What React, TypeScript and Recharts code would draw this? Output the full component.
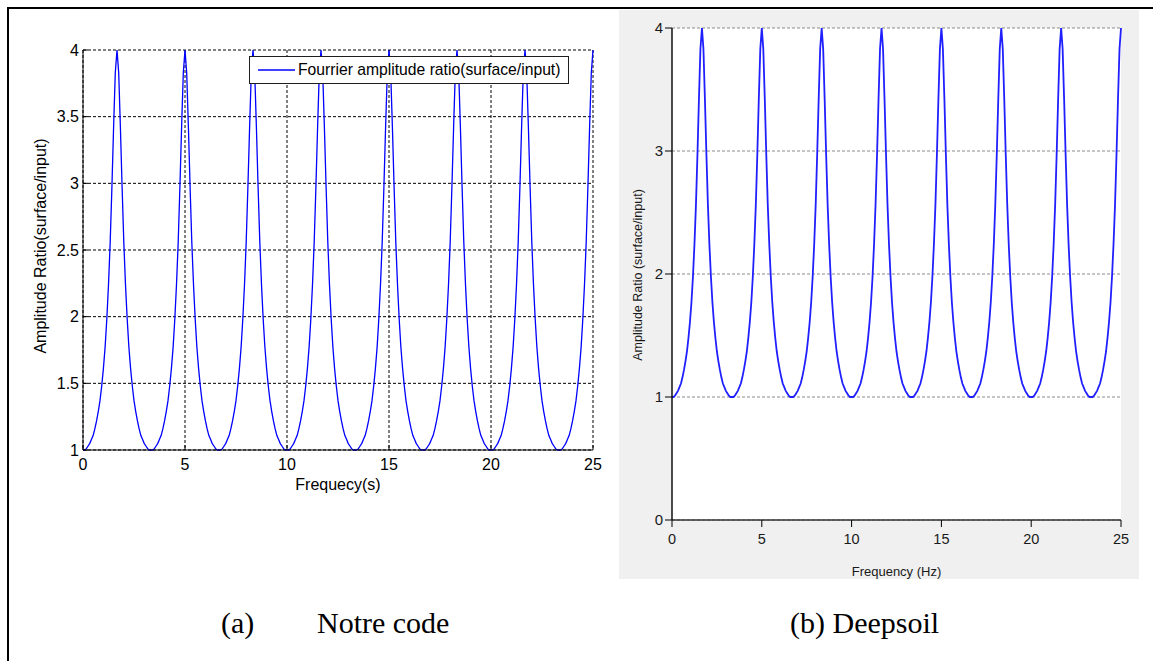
import React from 'react';
import { LineChart, Line, XAxis, YAxis, CartesianGrid, Legend } from 'recharts';

// Frequency samples (Hz), read along the x axis of both plots
const frequencyHz = [
  0, 0.083, 0.167, 0.25, 0.333, 0.417, 0.5, 0.583, 0.667, 0.75, 0.833, 0.917,
  1, 1.083, 1.167, 1.25, 1.333, 1.417, 1.5, 1.583, 1.667, 1.75, 1.833, 1.917,
  2, 2.083, 2.167, 2.25, 2.333, 2.417, 2.5, 2.583, 2.667, 2.75, 2.833, 2.917,
  3, 3.083, 3.167, 3.25, 3.333, 3.417, 3.5, 3.583, 3.667, 3.75, 3.833, 3.917,
  4, 4.083, 4.167, 4.25, 4.333, 4.417, 4.5, 4.583, 4.667, 4.75, 4.833, 4.917,
  5, 5.083, 5.167, 5.25, 5.333, 5.417, 5.5, 5.583, 5.667, 5.75, 5.833, 5.917,
  6, 6.083, 6.167, 6.25, 6.333, 6.417, 6.5, 6.583, 6.667, 6.75, 6.833, 6.917,
  7, 7.083, 7.167, 7.25, 7.333, 7.417, 7.5, 7.583, 7.667, 7.75, 7.833, 7.917,
  8, 8.083, 8.167, 8.25, 8.333, 8.417, 8.5, 8.583, 8.667, 8.75, 8.833, 8.917,
  9, 9.083, 9.167, 9.25, 9.333, 9.417, 9.5, 9.583, 9.667, 9.75, 9.833, 9.917,
  10, 10.083, 10.167, 10.25, 10.333, 10.417, 10.5, 10.583, 10.667, 10.75, 10.833, 10.917,
  11, 11.083, 11.167, 11.25, 11.333, 11.417, 11.5, 11.583, 11.667, 11.75, 11.833, 11.917,
  12, 12.083, 12.167, 12.25, 12.333, 12.417, 12.5, 12.583, 12.667, 12.75, 12.833, 12.917,
  13, 13.083, 13.167, 13.25, 13.333, 13.417, 13.5, 13.583, 13.667, 13.75, 13.833, 13.917,
  14, 14.083, 14.167, 14.25, 14.333, 14.417, 14.5, 14.583, 14.667, 14.75, 14.833, 14.917,
  15, 15.083, 15.167, 15.25, 15.333, 15.417, 15.5, 15.583, 15.667, 15.75, 15.833, 15.917,
  16, 16.083, 16.167, 16.25, 16.333, 16.417, 16.5, 16.583, 16.667, 16.75, 16.833, 16.917,
  17, 17.083, 17.167, 17.25, 17.333, 17.417, 17.5, 17.583, 17.667, 17.75, 17.833, 17.917,
  18, 18.083, 18.167, 18.25, 18.333, 18.417, 18.5, 18.583, 18.667, 18.75, 18.833, 18.917,
  19, 19.083, 19.167, 19.25, 19.333, 19.417, 19.5, 19.583, 19.667, 19.75, 19.833, 19.917,
  20, 20.083, 20.167, 20.25, 20.333, 20.417, 20.5, 20.583, 20.667, 20.75, 20.833, 20.917,
  21, 21.083, 21.167, 21.25, 21.333, 21.417, 21.5, 21.583, 21.667, 21.75, 21.833, 21.917,
  22, 22.083, 22.167, 22.25, 22.333, 22.417, 22.5, 22.583, 22.667, 22.75, 22.833, 22.917,
  23, 23.083, 23.167, 23.25, 23.333, 23.417, 23.5, 23.583, 23.667, 23.75, 23.833, 23.917,
  24, 24.083, 24.167, 24.25, 24.333, 24.417, 24.5, 24.583, 24.667, 24.75, 24.833, 24.917,
  25,
];

// Amplitude ratio (surface/input) (same curve in both plots)
const amplitudeRatio = [
  1.00, 1.00, 1.01, 1.03, 1.05, 1.08, 1.11, 1.16, 1.22, 1.29, 1.37, 1.48, 1.61, 1.77, 1.98, 2.24, 2.56, 2.97, 3.42, 3.83,
  4.00, 3.83, 3.42, 2.97, 2.56, 2.24, 1.98, 1.77, 1.61, 1.48, 1.37, 1.29, 1.22, 1.16, 1.11, 1.08, 1.05, 1.03, 1.01, 1.00,
  1.00, 1.00, 1.01, 1.03, 1.05, 1.08, 1.11, 1.16, 1.22, 1.29, 1.37, 1.48, 1.61, 1.77, 1.98, 2.24, 2.56, 2.97, 3.42, 3.83,
  4.00, 3.83, 3.42, 2.97, 2.56, 2.24, 1.98, 1.77, 1.61, 1.48, 1.37, 1.29, 1.22, 1.16, 1.11, 1.08, 1.05, 1.03, 1.01, 1.00,
  1.00, 1.00, 1.01, 1.03, 1.05, 1.08, 1.11, 1.16, 1.22, 1.29, 1.37, 1.48, 1.61, 1.77, 1.98, 2.24, 2.56, 2.97, 3.42, 3.83,
  4.00, 3.83, 3.42, 2.97, 2.56, 2.24, 1.98, 1.77, 1.61, 1.48, 1.37, 1.29, 1.22, 1.16, 1.11, 1.08, 1.05, 1.03, 1.01, 1.00,
  1.00, 1.00, 1.01, 1.03, 1.05, 1.08, 1.11, 1.16, 1.22, 1.29, 1.37, 1.48, 1.61, 1.77, 1.98, 2.24, 2.56, 2.97, 3.42, 3.83,
  4.00, 3.83, 3.42, 2.97, 2.56, 2.24, 1.98, 1.77, 1.61, 1.48, 1.37, 1.29, 1.22, 1.16, 1.11, 1.08, 1.05, 1.03, 1.01, 1.00,
  1.00, 1.00, 1.01, 1.03, 1.05, 1.08, 1.11, 1.16, 1.22, 1.29, 1.37, 1.48, 1.61, 1.77, 1.98, 2.24, 2.56, 2.97, 3.42, 3.83,
  4.00, 3.83, 3.42, 2.97, 2.56, 2.24, 1.98, 1.77, 1.61, 1.48, 1.37, 1.29, 1.22, 1.16, 1.11, 1.08, 1.05, 1.03, 1.01, 1.00,
  1.00, 1.00, 1.01, 1.03, 1.05, 1.08, 1.11, 1.16, 1.22, 1.29, 1.37, 1.48, 1.61, 1.77, 1.98, 2.24, 2.56, 2.97, 3.42, 3.83,
  4.00, 3.83, 3.42, 2.97, 2.56, 2.24, 1.98, 1.77, 1.61, 1.48, 1.37, 1.29, 1.22, 1.16, 1.11, 1.08, 1.05, 1.03, 1.01, 1.00,
  1.00, 1.00, 1.01, 1.03, 1.05, 1.08, 1.11, 1.16, 1.22, 1.29, 1.37, 1.48, 1.61, 1.77, 1.98, 2.24, 2.56, 2.97, 3.42, 3.83,
  4.00, 3.83, 3.42, 2.97, 2.56, 2.24, 1.98, 1.77, 1.61, 1.48, 1.37, 1.29, 1.22, 1.16, 1.11, 1.08, 1.05, 1.03, 1.01, 1.00,
  1.00, 1.00, 1.01, 1.03, 1.05, 1.08, 1.11, 1.16, 1.22, 1.29, 1.37, 1.48, 1.61, 1.77, 1.98, 2.24, 2.56, 2.97, 3.42, 3.83,
  4.00,
];

const xTicks = [0, 5, 10, 15, 20, 25];
const yTicksA = [1, 1.5, 2, 2.5, 3, 3.5, 4];
const yTicksB = [0, 1, 2, 3, 4];

const legendLabel = 'Fourrier amplitude ratio(surface/input)';
const xLabelA = 'Frequecy(s)';
const yLabelA = 'Amplitude Ratio(surface/input)';
const xLabelB = 'Frequency (Hz)';
const yLabelB = 'Amplitude Ratio (surface/input)';
const captionA1 = '(a)';
const captionA2 = 'Notre code';
const captionB = '(b) Deepsoil';

const data = frequencyHz.map((f, i) => ({ f, a: amplitudeRatio[i] }));

const SANS = '"Liberation Sans", Arial, sans-serif';
const SERIF = '"Liberation Serif", "Times New Roman", serif';

const LegendBox = () => (
  <div
    style={{
      width: 320,
      height: 28,
      boxSizing: 'border-box',
      border: '1px solid #1e1e1e',
      background: '#fff',
      position: 'relative',
      fontFamily: SANS,
      fontSize: 15.7,
      color: '#000',
    }}
  >
    <svg width={320} height={26} style={{ position: 'absolute', left: 0, top: 0 }}>
      <line x1={8} x2={45} y1={13} y2={13} stroke="#0000ff" strokeWidth={1.3} />
    </svg>
    <span style={{ position: 'absolute', left: 48, top: 4, lineHeight: '18px', whiteSpace: 'nowrap' }}>
      {legendLabel}
    </span>
  </div>
);

const ChartA = () => (
  <div style={{ position: 'absolute', left: 0, top: 0 }}>
    <LineChart width={620} height={500} data={data} margin={{ top: 50, right: 27, left: 0, bottom: 0 }}>
      <CartesianGrid stroke="#000" strokeDasharray="3 2" strokeWidth={1} />
      <XAxis
        dataKey="f"
        type="number"
        domain={[0, 25]}
        ticks={xTicks}
        interval={0}
        height={50}
        stroke="#000"
        tickSize={-5}
        tickMargin={14}
        tick={{ fill: '#000', fontSize: 16, fontFamily: SANS }}
        label={{ value: xLabelA, position: 'center', dy: 9, fill: '#000', fontSize: 16, fontFamily: SANS }}
      />
      <XAxis
        xAxisId="top"
        orientation="top"
        dataKey="f"
        type="number"
        domain={[0, 25]}
        ticks={xTicks}
        interval={0}
        height={0}
        tick={false}
        tickSize={-5}
        stroke="#000"
      />
      <YAxis
        type="number"
        domain={[1, 4]}
        ticks={yTicksA}
        interval={0}
        width={83}
        stroke="#000"
        tickSize={-5}
        tickMargin={9}
        tick={{ fill: '#000', fontSize: 16, fontFamily: SANS }}
        label={{ value: yLabelA, angle: -90, position: 'center', dx: -1, dy: -4, fill: '#000', fontSize: 16, fontFamily: SANS }}
      />
      <YAxis
        yAxisId="right"
        orientation="right"
        type="number"
        domain={[1, 4]}
        ticks={yTicksA}
        interval={0}
        width={0}
        tick={false}
        tickSize={-5}
        stroke="#000"
      />
      <Line
        dataKey="a"
        name={legendLabel}
        type="linear"
        stroke="#0000ff"
        strokeWidth={1.3}
        dot={false}
        isAnimationActive={false}
      />
      <Legend
        layout="horizontal"
        verticalAlign="middle"
        align="center"
        wrapperStyle={{ position: 'absolute', left: 249, top: 56, width: 320, height: 28 }}
        content={() => <LegendBox />}
      />
    </LineChart>
  </div>
);

const ChartB = () => (
  <div style={{ position: 'absolute', left: 619, top: 10, width: 520, height: 569, background: '#f0f0f0' }}>
    <LineChart width={520} height={569} data={data} margin={{ top: 18, right: 18, left: 0, bottom: 0 }}>
      <CartesianGrid vertical={false} fill="#ffffff" stroke="#8c8c8c" strokeDasharray="3 2" />
      <XAxis
        dataKey="f"
        type="number"
        domain={[0, 25]}
        ticks={xTicks}
        interval={0}
        height={59}
        axisLine={{ stroke: '#333', strokeWidth: 1.5 }}
        tickLine={{ stroke: '#000' }}
        tickSize={7}
        tickMargin={7}
        tick={{ fill: '#1a1a1a', fontSize: 14.5, fontFamily: SANS }}
        label={{ value: xLabelB, position: 'center', dy: 22, fill: '#1a1a1a', fontSize: 13, fontFamily: SANS }}
      />
      <YAxis
        type="number"
        domain={[0, 4]}
        ticks={yTicksB}
        interval={0}
        width={53}
        axisLine={{ stroke: '#111', strokeWidth: 1.5 }}
        tickLine={{ stroke: '#000' }}
        tickSize={7}
        tickMargin={2}
        tick={{ fill: '#1a1a1a', fontSize: 15, fontFamily: SANS }}
        label={{ value: yLabelB, angle: -90, position: 'center', dx: -7.5, dy: 1, fill: '#1a1a1a', fontSize: 12.5, fontFamily: SANS }}
      />
      <Line dataKey="a" type="linear" stroke="#2020ff" strokeWidth={1.8} dot={false} isAnimationActive={false} />
    </LineChart>
  </div>
);

const captionStyle: React.CSSProperties = {
  position: 'absolute',
  top: 608,
  fontFamily: SERIF,
  fontSize: 30,
  lineHeight: '30px',
  color: '#000',
  whiteSpace: 'nowrap',
};

export default function App() {
  return (
    <div style={{ position: 'absolute', left: 0, top: 0, width: 1153, height: 661, background: '#fff', overflow: 'hidden' }}>
      <div
        style={{
          position: 'absolute',
          left: 7,
          top: 7,
          width: 1146,
          height: 654,
          boxSizing: 'border-box',
          borderTop: '2px solid #000',
          borderLeft: '2px solid #000',
        }}
      />
      <ChartA />
      <ChartB />
      <span style={{ ...captionStyle, left: 221 }}>{captionA1}</span>
      <span style={{ ...captionStyle, left: 317 }}>{captionA2}</span>
      <span style={{ ...captionStyle, left: 790 }}>{captionB}</span>
    </div>
  );
}
